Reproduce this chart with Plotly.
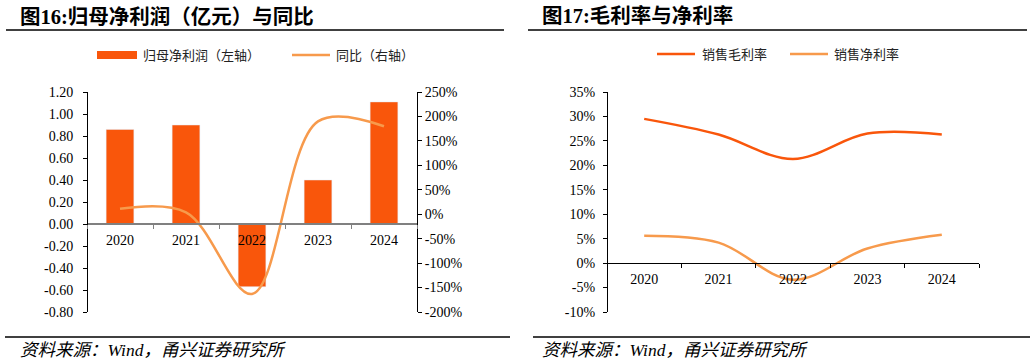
import plotly.graph_objects as go

# ---------------- data ----------------
years = ["2020", "2021", "2022", "2023", "2024"]
net_profit = [0.86, 0.90, -0.57, 0.40, 1.11]          # 亿元
yoy = [11, 4, -163, 190, 180]                          # %
gross_margin = [29.5, 26.3, 21.3, 26.5, 26.3]          # %
net_margin = [5.6, 4.2, -3.4, 3.0, 5.8]                # %

left_ticks = [-0.8, -0.6, -0.4, -0.2, 0.0, 0.2, 0.4, 0.6, 0.8, 1.0, 1.2]
left_labels = [f"{v:.2f}" for v in left_ticks]
right_ticks = [-200, -150, -100, -50, 0, 50, 100, 150, 200, 250]
right_labels = [f"{v}%" for v in right_ticks]
m_ticks = [-10, -5, 0, 5, 10, 15, 20, 25, 30, 35]
m_labels = [f"{v}%" for v in m_ticks]

title_l = "图16:归母净利润（亿元）与同比"
title_r = "图17:毛利率与净利率"
source = "资料来源：Wind，甬兴证券研究所"
leg_bar = "归母净利润（左轴）"
leg_yoy = "同比（右轴）"
leg_gm = "销售毛利率"
leg_nm = "销售净利率"

# ---------------- layout helpers ----------------
W, H = 1032, 363
def px(x): return x / W
def py(y): return 1 - y / H

BAR = "#F9560B"
LIGHT = "#F79A4C"
SERIF = "Liberation Serif, Noto Sans CJK SC"
CJK = "Noto Sans CJK SC"
TICKFONT = dict(family=SERIF, size=14, color="#000")

LX = [87, 417]
RX = [607, 979]
TOP, BOT = 92, 312
ydom = [py(BOT), py(TOP)]
cat_range = [-0.5, len(years) - 0.5]

def zero_pos(lo, hi):
    return ydom[0] + (0 - lo) / (hi - lo) * (ydom[1] - ydom[0])

fig = go.Figure()
fig.add_trace(go.Bar(x=years, y=net_profit, marker_color=BAR, width=0.42,
                     xaxis="x", yaxis="y", showlegend=False))
fig.add_trace(go.Scatter(x=years, y=yoy, mode="lines",
                         line=dict(color=LIGHT, width=2.5, shape="spline", smoothing=1),
                         xaxis="x", yaxis="y2", showlegend=False))
fig.add_trace(go.Scatter(x=years, y=gross_margin, mode="lines",
                         line=dict(color=BAR, width=2.5, shape="spline", smoothing=1),
                         xaxis="x3", yaxis="y3", showlegend=False))
fig.add_trace(go.Scatter(x=years, y=net_margin, mode="lines",
                         line=dict(color=LIGHT, width=2.5, shape="spline", smoothing=1),
                         xaxis="x3", yaxis="y3", showlegend=False))

common_x = dict(type="category", range=cat_range, showgrid=False, zeroline=False,
                showline=True, ticks="outside", tickson="boundaries", ticklen=4,
                tickfont=TICKFONT, ticklabelstandoff=3, fixedrange=True)
common_y = dict(showgrid=False, zeroline=False, showline=True, linecolor="#000",
                linewidth=1, ticks="outside", ticklen=4, tickcolor="#000",
                tickfont=TICKFONT, fixedrange=True)

fig.update_layout(
    autosize=True, margin=dict(l=0, r=0, t=0, b=0, autoexpand=False),
    paper_bgcolor="white", plot_bgcolor="white", showlegend=False,
    xaxis=dict(domain=[px(LX[0]), px(LX[1])], anchor="free",
               position=zero_pos(-0.8, 1.2), linecolor="#808080", linewidth=1.5,
               tickcolor="#808080", **common_x),
    yaxis=dict(domain=ydom, anchor="free", position=px(LX[0]), range=[-0.8, 1.2],
               tickvals=left_ticks, ticktext=left_labels, ticklabelstandoff=7,
               **common_y),
    yaxis2=dict(overlaying="y", side="right", anchor="free", position=px(LX[1]),
                range=[-200, 250], tickvals=right_ticks, ticktext=right_labels,
                **common_y),
    xaxis3=dict(domain=[px(RX[0]), px(RX[1])], anchor="free",
                position=zero_pos(-10, 35), linecolor="#000", linewidth=1.2,
                tickcolor="#000", **common_x),
    yaxis3=dict(domain=ydom, anchor="free", position=px(RX[0]), range=[-10, 35],
                tickvals=m_ticks, ticktext=m_labels, ticklabelstandoff=5, **common_y),
)

shapes = []
annotations = []

def ann(text, x, y, size, family=CJK, color="#000", **kw):
    annotations.append(dict(text=text, x=px(x), y=py(y), xref="paper", yref="paper",
                            xanchor="left", yanchor="middle", showarrow=False,
                            font=dict(size=size, family=family, color=color), **kw))

def hline(x0, x1, y, color="#000", width=1.5):
    shapes.append(dict(type="line", xref="paper", yref="paper",
                       x0=px(x0), x1=px(x1), y0=py(y), y1=py(y),
                       line=dict(color=color, width=width)))

# titles
ann(f"<b>{title_l}</b>", 18, 16, 20.5, family=SERIF)
ann(f"<b>{title_r}</b>", 540, 16, 20.5, family=SERIF)
hline(6, 504, 30)
hline(528, 1027, 30)

# legends
shapes.append(dict(type="rect", xref="paper", yref="paper", x0=px(97), x1=px(137),
                   y0=py(59), y1=py(51), fillcolor=BAR, line=dict(width=0)))
ann(leg_bar, 141, 55, 13, color="#222")
hline(292, 330, 55, color=LIGHT, width=2.5)
ann(leg_yoy, 334, 55, 13, color="#222")
hline(657, 695, 54, color=BAR, width=2.5)
ann(leg_gm, 700, 54, 13, color="#222")
hline(790, 828, 54, color=LIGHT, width=2.5)
ann(leg_nm, 832, 54, 13, color="#222")

# footnotes
hline(5, 510, 337)
hline(533, 1030, 337)
ann(f"<i>{source}</i>", 18, 350, 17.5, family=SERIF)
ann(f"<i>{source}</i>", 540, 350, 17.5, family=SERIF)

fig.update_layout(shapes=shapes, annotations=annotations)
fig.write_html(
    "out.html",
    config={"displayModeBar": False, "responsive": True},
    default_width="100vw",
    default_height="100vh",
    post_script=("document.documentElement.style.margin='0';"
                 "document.body.style.margin='0';"
                 "document.documentElement.style.overflow='hidden';"
                 "document.body.style.overflow='hidden';"
                 "window.dispatchEvent(new Event('resize'));"),
)
